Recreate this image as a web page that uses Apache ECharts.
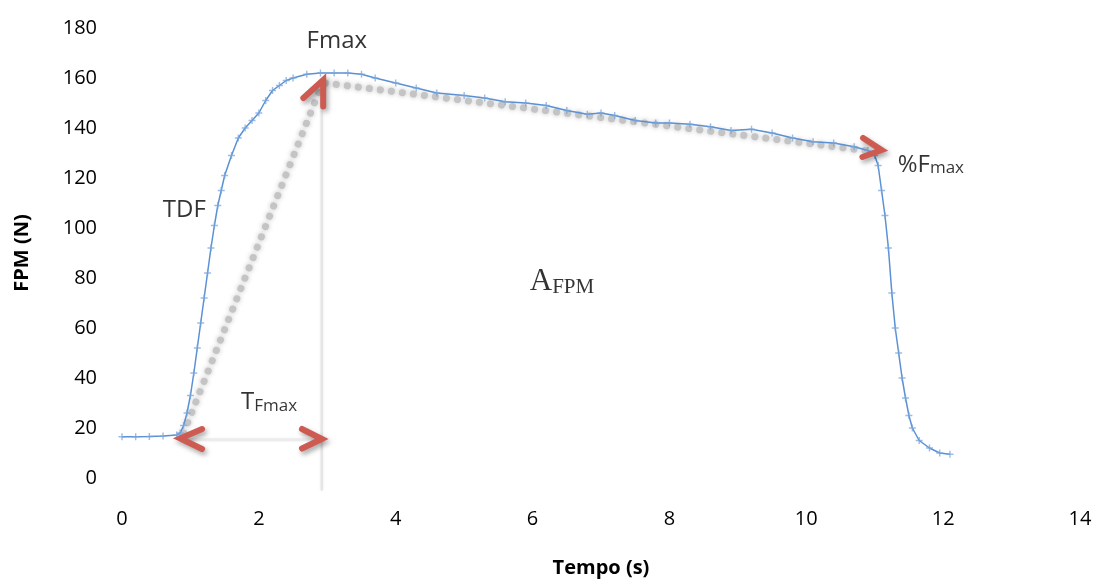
<!DOCTYPE html>
<html><head><meta charset="utf-8">
<script src="https://cdn.jsdelivr.net/npm/echarts@6/dist/echarts.min.js"></script>
<style>html,body{margin:0;padding:0;background:#fff}#c{width:1099px;height:583px}</style>
</head><body><div id="c"></div>
<script>
// Force curve (time in s, force in N)
const tempo = [0.0,0.2,0.4,0.6,0.8,0.85,0.9,0.95,1.0,1.05,1.1,1.15,1.2,1.25,1.3,1.35,1.4,1.45,1.5,1.6,1.7,1.8,1.9,2.0,2.1,2.2,2.3,2.4,2.5,2.7,2.9,3.1,3.3,3.5,3.7,4.0,4.3,4.6,5.0,5.3,5.6,5.9,6.2,6.5,6.8,7.0,7.2,7.5,7.8,8.0,8.3,8.6,8.9,9.2,9.5,9.8,10.1,10.4,10.7,10.9,11.0,11.05,11.1,11.15,11.2,11.25,11.3,11.35,11.4,11.45,11.5,11.55,11.65,11.8,11.95,12.1];
const fpm = [16.5,16.5,16.6,16.8,17.2,18,21,26,33,42,52,62,72,82,92,101,109,115,121,129,136,140,143,146,151,155,157,159,160,161.5,162,162,162,161.5,160,158,156,154,153,152,150.5,150,149,147,145.5,146,145,143,142,142,141.5,140.5,139,139.5,138,136,134.5,134,132.5,131,129,125,115,105,92,74,60,50,40,32,25,20,15,12,10,9.5];
const xTicks = [0,2,4,6,8,10,12,14];
const yTicks = [0,20,40,60,80,100,120,140,160,180];

// Annotation anchors (data units)
const tdfLine = [[0.9,18],[2.9,156]];
const decayLine = [[2.97,158],[11.0,130.5]];
const tfmaxVertical = [[2.92,157],[2.92,-5]];
const tfmaxHorizontal = [[0.95,15.3],[2.88,15.3]];
const chevronLeft = [[1.17,19.6],[0.85,15.8],[1.17,11.6]];
const chevronRight = [[2.63,19.6],[2.92,15.6],[2.63,11.8]];
const chevronUp = [[2.65,152],[2.94,159.2],[2.94,148.6]];
const chevronPct = [[10.83,136],[11.1,131.2],[10.82,128.4]];
const labels = [
  {pos:[3.14,176], text:'{b|Fmax}'},
  {pos:[0.91,108.4], text:'{b|TDF}'},
  {pos:[2.15,31.5], text:'{b|T}{s|Fmax}'},
  {pos:[11.82,126.5], text:'{b|%F}{s|max}'},
  {pos:[6.43,78.5], text:'{sa|A}{sf|FPM}'}
];

const chart = echarts.init(document.getElementById('c'), null, {renderer:'canvas'});
const font = 'Open Sans';
const red = '#CD5B52';
const chev = (d) => ({
  type:'line', data:d, symbol:'none', silent:true, clip:false, z:6,
  lineStyle:{color:red, width:6, cap:'round', join:'miter', shadowColor:'rgba(0,0,0,0.35)', shadowBlur:5, shadowOffsetX:2, shadowOffsetY:3}
});
const plus = 'path://M4,0h2v4h4v2h-4v4h-2v-4h-4v-2h4z';
const noBorder = {textBorderWidth:0, textBorderColor:'transparent', textShadowBlur:0, textShadowColor:'transparent'};

chart.setOption({
  animation:false,
  grid:{left:122, right:19, top:28, bottom:105, containLabel:false, outerBoundsMode:'none'},
  xAxis:{type:'value', min:0, max:14, interval:2,
    axisLine:{show:false}, axisTick:{show:false}, splitLine:{show:false},
    axisLabel:{fontFamily:font, fontSize:20, color:'#000', margin:31},
    name:'Tempo (s)', nameLocation:'middle', nameGap:80,
    nameTextStyle:{fontFamily:font, fontSize:20, fontWeight:'bold', color:'#000'}},
  yAxis:{type:'value', min:0, max:180, interval:20,
    axisLine:{show:false}, axisTick:{show:false}, splitLine:{show:false},
    axisLabel:{fontFamily:font, fontSize:20, color:'#000', margin:25},
    name:'FPM (N)', nameLocation:'middle', nameGap:90, nameRotate:90,
    nameTextStyle:{fontFamily:font, fontSize:20, fontWeight:'bold', color:'#000'}},
  series:[
    {type:'line', data:tfmaxVertical, symbol:'none', clip:false, silent:true, z:1,
      lineStyle:{color:'#e6e6e6', width:2.5, shadowColor:'rgba(0,0,0,0.08)', shadowBlur:3}},
    {type:'line', data:tfmaxHorizontal, symbol:'none', clip:false, silent:true, z:1,
      lineStyle:{color:'#ececec', width:3, shadowColor:'rgba(0,0,0,0.06)', shadowBlur:3}},
    {type:'line', data:tdfLine, symbol:'none', clip:false, silent:true, z:2,
      lineStyle:{color:'#c4c4c4', width:7, type:[0.1,11], cap:'round', shadowColor:'rgba(0,0,0,0.25)', shadowBlur:5}},
    {type:'line', data:decayLine, symbol:'none', clip:false, silent:true, z:2,
      lineStyle:{color:'#c4c4c4', width:7, type:[0.1,11], cap:'round', shadowColor:'rgba(0,0,0,0.25)', shadowBlur:5}},
    {type:'line', data:tempo.map((t,i)=>[t,fpm[i]]), z:4,
      symbol:plus, symbolSize:7, showSymbol:true, showAllSymbol:true,
      itemStyle:{color:'rgba(120,165,220,0.75)'},
      lineStyle:{color:'#5a90d4', width:1.5}},
    chev(chevronLeft), chev(chevronRight), chev(chevronUp), chev(chevronPct),
    {type:'scatter', silent:true, z:8, symbolSize:0, itemStyle:{color:'#000'},
      data:labels.map(l=>({value:l.pos, label:{formatter:l.text}})),
      label:Object.assign({show:true, position:'inside', color:'#000',
        rich:{
          b:Object.assign({fontFamily:font, fontSize:24, color:'#000', verticalAlign:'bottom', lineHeight:30}, noBorder),
          s:Object.assign({fontFamily:font, fontSize:17, color:'#000', verticalAlign:'bottom', lineHeight:18}, noBorder),
          sa:Object.assign({fontFamily:'Liberation Serif', fontSize:31, color:'#000', verticalAlign:'bottom', lineHeight:32}, noBorder),
          sf:Object.assign({fontFamily:'Liberation Serif', fontSize:21, color:'#000', verticalAlign:'bottom', lineHeight:21}, noBorder)
        }}, noBorder)}
  ]
});
</script></body></html>
